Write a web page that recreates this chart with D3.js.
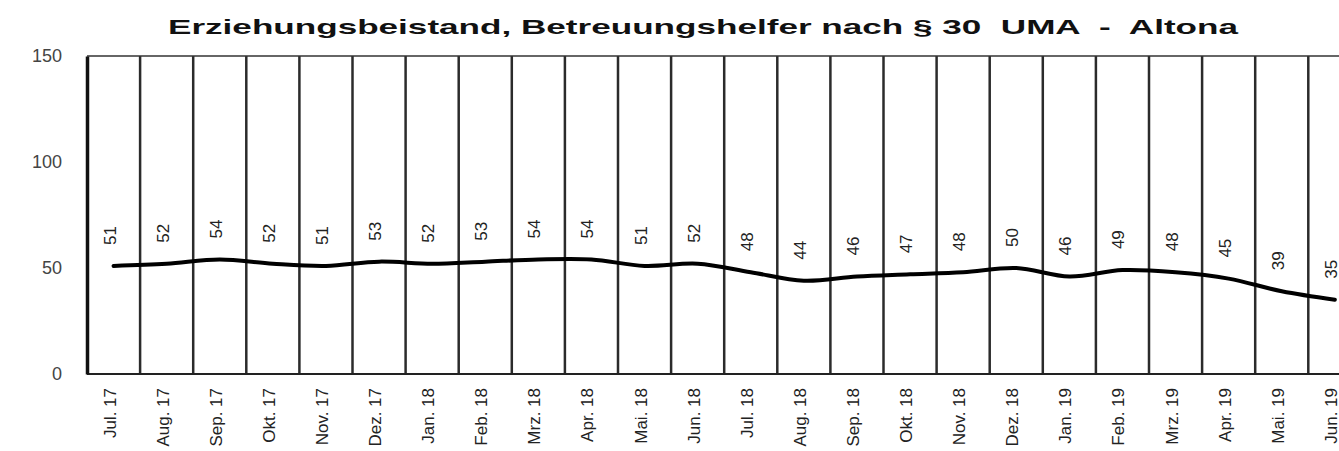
<!DOCTYPE html>
<meta charset="utf-8">
<style>
  body { margin: 0; background: #fff; }
  text { font-family: "Liberation Sans", Arial, sans-serif; }
</style>
<svg width="1339" height="451"></svg>
<script src="https://cdn.jsdelivr.net/npm/d3@7"></script>
<script>

var months = ["Jul. 17", "Aug. 17", "Sep. 17", "Okt. 17", "Nov. 17", "Dez. 17",
  "Jan. 18", "Feb. 18", "Mrz. 18", "Apr. 18", "Mai. 18", "Jun. 18",
  "Jul. 18", "Aug. 18", "Sep. 18", "Okt. 18", "Nov. 18", "Dez. 18",
  "Jan. 19", "Feb. 19", "Mrz. 19", "Apr. 19", "Mai. 19", "Jun. 19"];
var values = [51, 52, 54, 52, 51, 53, 52, 53, 54, 54, 51, 52,
  48, 44, 46, 47, 48, 50, 46, 49, 48, 45, 39, 35];
var yTicks = [0, 50, 100, 150];
var title = "Erziehungsbeistand, Betreuungshelfer nach § 30  UMA  -  Altona";

var svg = d3.select("svg");

var plotLeft = 87, plotTop = 56, plotBottom = 374, step = 53.1;

var x = d3.scaleBand()
    .domain(months)
    .range([plotLeft, plotLeft + months.length * step])
    .padding(0);

var y = d3.scaleLinear()
    .domain([0, 150])
    .range([plotBottom, plotTop]);

// title
svg.append("text")
    .attr("x", 168)
    .attr("y", 34)
    .attr("font-size", 21)
    .attr("font-weight", "bold")
    .attr("fill", "#111")
    .attr("textLength", 1070)
    .attr("lengthAdjust", "spacingAndGlyphs")
    .style("white-space", "pre")
    .text(title);

// category separators
svg.append("g")
  .selectAll("line")
  .data(months.slice(1).concat(["__end"]))
  .join("line")
    .attr("x1", function(d) { return d == "__end" ? x.range()[1] : x(d); })
    .attr("x2", function(d) { return d == "__end" ? x.range()[1] : x(d); })
    .attr("y1", plotTop)
    .attr("y2", plotBottom)
    .attr("stroke", "#2b2b2b")
    .attr("stroke-width", 2.5);

// top border
svg.append("line")
    .attr("x1", plotLeft).attr("x2", x.range()[1])
    .attr("y1", plotTop).attr("y2", plotTop)
    .attr("stroke", "#333").attr("stroke-width", 1.5);

// bottom axis line
svg.append("line")
    .attr("x1", plotLeft).attr("x2", x.range()[1])
    .attr("y1", plotBottom).attr("y2", plotBottom)
    .attr("stroke", "#222").attr("stroke-width", 2);

// y axis
var yAxis = svg.append("g")
    .attr("transform", "translate(" + plotLeft + ",0)")
    .call(d3.axisLeft(y).tickValues(yTicks).tickSize(0).tickPadding(25));
yAxis.select(".domain").attr("stroke", "#111").attr("stroke-width", 3.5);
yAxis.selectAll("text")
    .attr("font-size", 18)
    .attr("fill", "#444")
    .attr("font-family", "'Liberation Sans', Arial, sans-serif");

// x labels
svg.append("g")
  .selectAll("text")
  .data(months)
  .join("text")
    .attr("transform", function(d) {
      return "translate(" + (x(d) + x.bandwidth() / 2 - 4) + ",388) rotate(-90)";
    })
    .attr("text-anchor", "end")
    .attr("dy", "0.35em")
    .attr("font-size", 17)
    .attr("fill", "#222")
    .text(function(d) { return d; });

// line
var line = d3.line()
    .x(function(d, i) { return x(months[i]) + x.bandwidth() / 2; })
    .y(function(d) { return y(d); })
    .curve(d3.curveCatmullRom.alpha(0.5));

svg.append("path")
    .datum(values)
    .attr("d", line)
    .attr("fill", "none")
    .attr("stroke", "#000")
    .attr("stroke-width", 4)
    .attr("stroke-linecap", "round");

// data labels
svg.append("g")
  .selectAll("text")
  .data(values)
  .join("text")
    .attr("transform", function(d, i) {
      return "translate(" + (x(months[i]) + x.bandwidth() / 2 - 4) + "," + (y(d) - 21) + ") rotate(-90)";
    })
    .attr("text-anchor", "start")
    .attr("dy", "0.35em")
    .attr("font-size", 17)
    .attr("fill", "#222")
    .text(function(d) { return d; });

</script>
